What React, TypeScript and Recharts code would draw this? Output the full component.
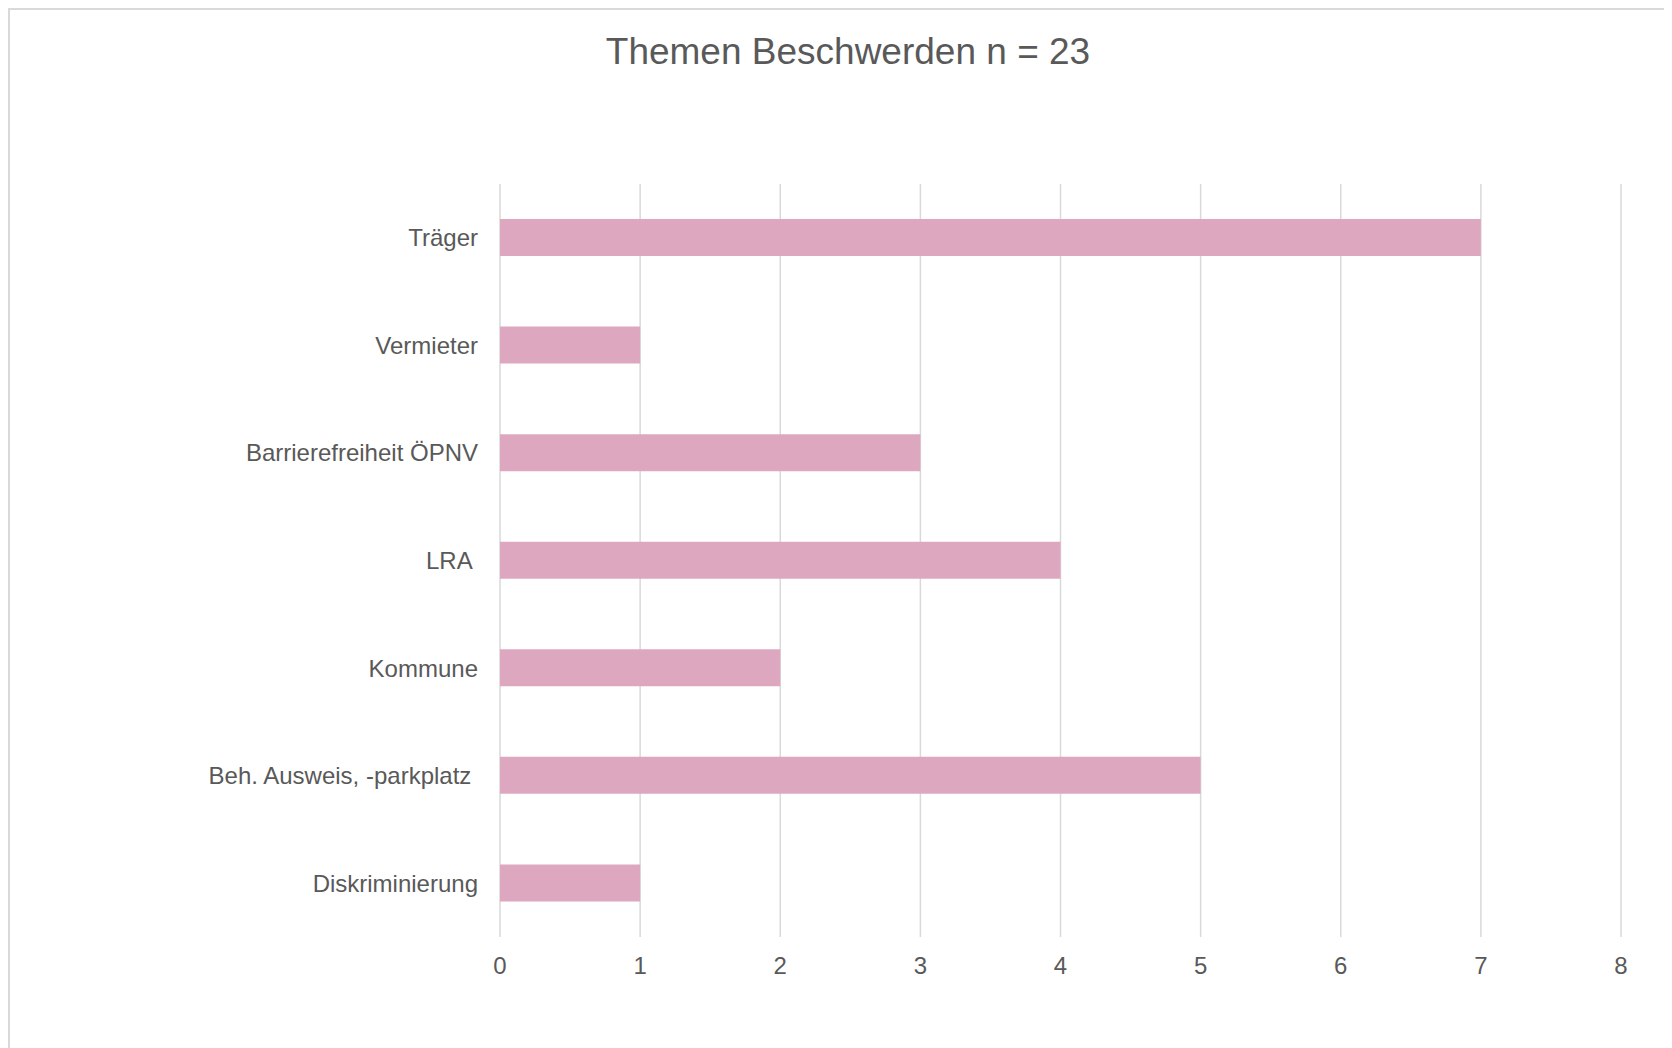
import React from "react";
import { BarChart, Bar, XAxis, YAxis, CartesianGrid } from "recharts";

const categories = [
  "Träger",
  "Vermieter",
  "Barrierefreiheit ÖPNV",
  "LRA ",
  "Kommune",
  "Beh. Ausweis, -parkplatz ",
  "Diskriminierung",
];
const values = [7, 1, 3, 4, 2, 5, 1];
const xTicks = [0, 1, 2, 3, 4, 5, 6, 7, 8];
const title = "Themen Beschwerden n = 23";

const data = categories.map((name, i) => ({ name, value: values[i] }));

const FONT = "'Liberation Sans', Arial, sans-serif";
const TEXT = "#595959";

const YTick = (props: any) => {
  const { x, y, payload } = props;
  return (
    <text
      x={x}
      y={y}
      textAnchor="end"
      dominantBaseline="central"
      fill={TEXT}
      fontSize={24}
      fontFamily={FONT}
      style={{ whiteSpace: "pre" }}
    >
      {payload.value}
    </text>
  );
};

const XTick = (props: any) => {
  const { x, y, payload } = props;
  return (
    <text
      x={x}
      y={y + 28}
      textAnchor="middle"
      dominantBaseline="central"
      fill={TEXT}
      fontSize={24}
      fontFamily={FONT}
    >
      {payload.value}
    </text>
  );
};

export default function App() {
  return (
    <div
      style={{
        position: "relative",
        width: 1662,
        height: 1038,
        borderTop: "2px solid #d9d9d9",
        borderLeft: "2px solid #d9d9d9",
        background: "#fff",
        fontFamily: FONT,
      }}
    >
      <div
        style={{
          position: "absolute",
          left: 0,
          top: 23,
          width: 1676,
          textAlign: "center",
          fontSize: 37,
          lineHeight: "37px",
          color: TEXT,
          fontFamily: FONT,
        }}
      >
        {title}
      </div>
      <BarChart
        width={1662}
        height={1038}
        data={data}
        layout="vertical"
        margin={{ top: 174, right: 51, bottom: 51, left: 0 }}
      >
        <CartesianGrid
          horizontal={false}
          vertical={true}
          stroke="#d9d9d9"
          strokeWidth={1.5}
        />
        <XAxis
          type="number"
          domain={[0, 8]}
          ticks={xTicks}
          interval={0}
          axisLine={false}
          tickLine={false}
          tickSize={0}
          tickMargin={0}
          height={60}
          tick={<XTick />}
        />
        <YAxis
          type="category"
          dataKey="name"
          width={490}
          axisLine={false}
          tickLine={false}
          tickSize={0}
          tickMargin={22}
          interval={0}
          tick={<YTick />}
        />
        <Bar
          dataKey="value"
          fill="#dda8bf"
          barSize={37}
          isAnimationActive={false}
        />
      </BarChart>
    </div>
  );
}
